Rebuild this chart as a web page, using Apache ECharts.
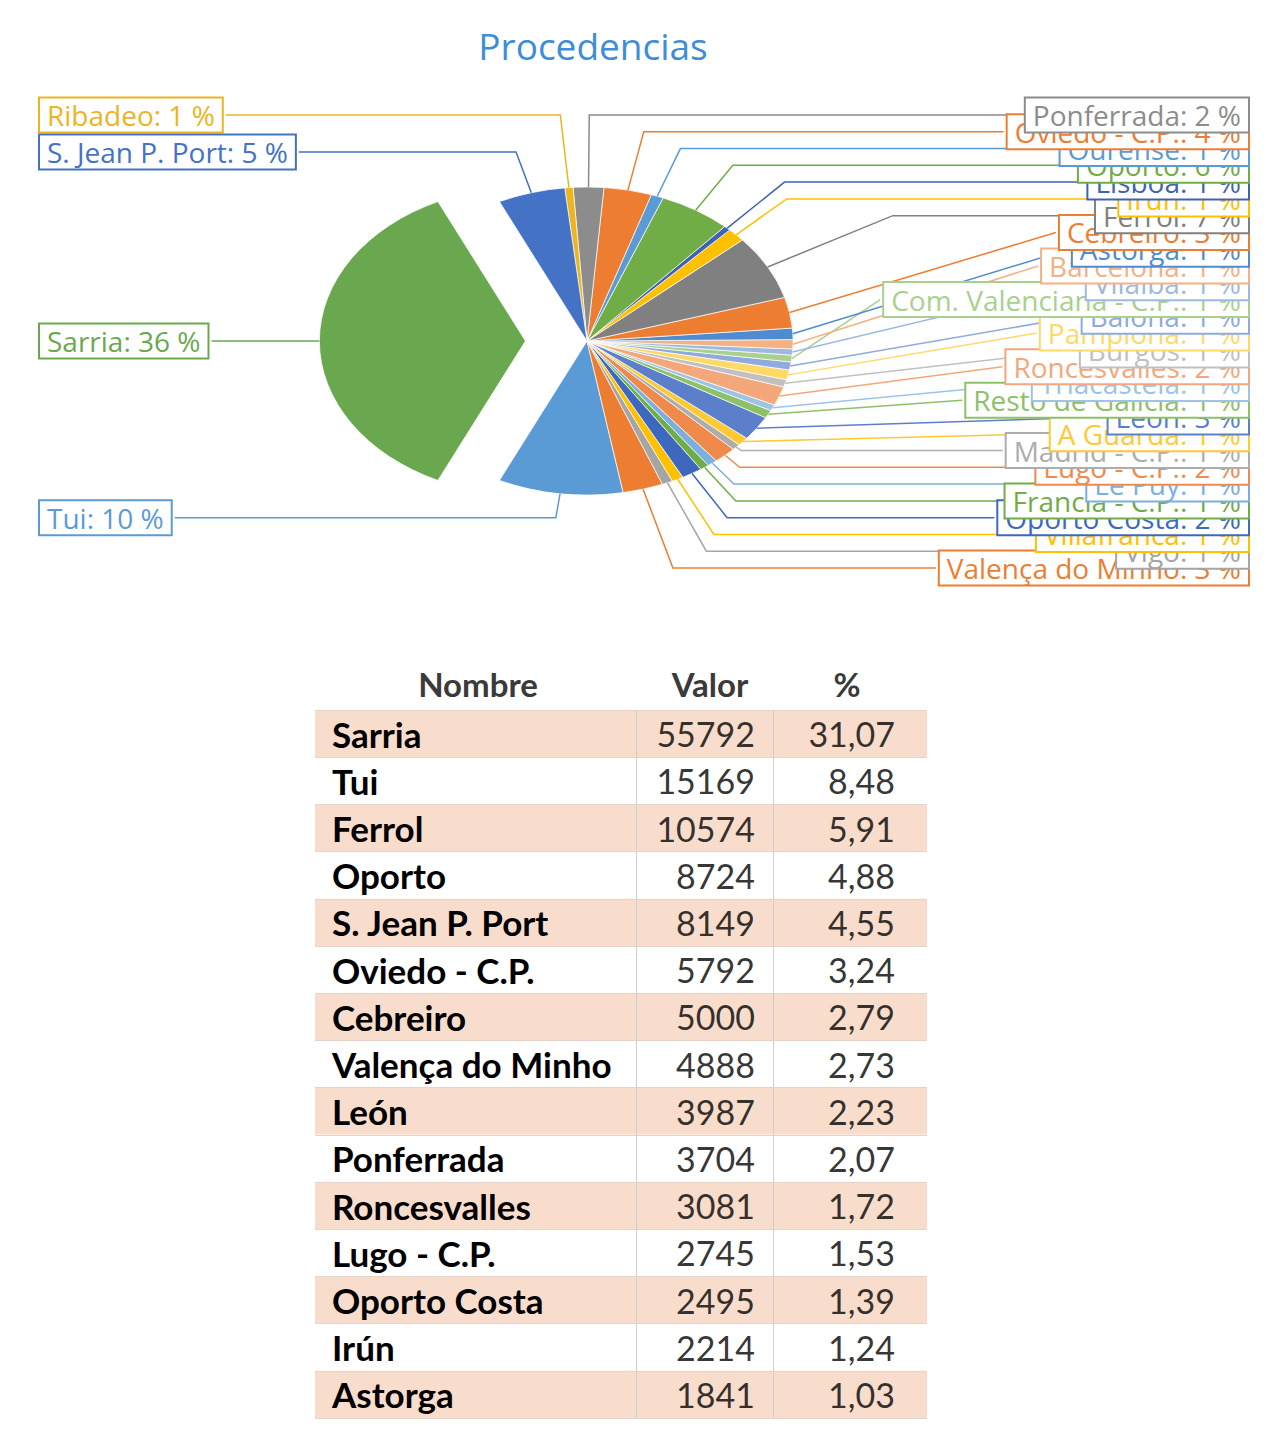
<!DOCTYPE html>
<html>
<head>
<meta charset="utf-8">
<script src="https://cdn.jsdelivr.net/npm/echarts@6/dist/echarts.min.js"></script>
<style>
html,body{margin:0;padding:0;background:#fff;}
#page{position:relative;width:1280px;height:1449px;overflow:hidden;}
#pie{position:absolute;left:0;top:0;width:1280px;height:600px;z-index:1;transform-origin:587px 341px;transform:scaleX(1.338);}
#main{position:absolute;left:0;top:0;width:1280px;height:1449px;z-index:2;}
</style>
</head>
<body>
<div id="page"><div id="pie"></div><div id="main"></div></div>
<script>
// ---------------- Pie data (clockwise, starting with Sarria) ----------------
const pieNames = ['Sarria','S. Jean P. Port','Ribadeo','Ponferrada','Oviedo - C.P.','Ourense','Oporto','Lisboa','Irún','Ferrol','Cebreiro','Astorga','Barcelona','Vilalba','Com. Valenciana - C.P.','Baiona','Pamplona','Burgos','Roncesvalles','Triacastela','Resto de Galicia','León','A Guarda','Madrid - C.P.','Lugo - C.P.','Le Puy','Francia - C.P.','Oporto Costa','Villafranca','Vigo','Valença do Minho','Tui'];
const pieValues = [55792, 8149, 1000, 3704, 5792, 1500, 8724, 800, 2214, 10574, 5000, 1841, 1500, 1000, 1100, 1300, 1600, 1200, 3081, 1000, 1300, 3987, 1400, 1000, 2745, 1200, 1100, 2495, 1400, 1300, 4888, 15169];
const pieColors = ['#6AA84F','#4472C4','#EBB522','#8C8C8C','#ED7D31','#5B9BD5','#70AD47','#3F63B0','#FFC000','#808080','#ED7D31','#4E8BD0','#F4B183','#9DB9E0','#A9D18E','#8FAADC','#FFD966','#C0C0C0','#F4A77A','#9DC3E6','#8CC168','#5B7FCB','#FFC933','#ADADAD','#F08A4B','#7CAFDD','#70AD47','#3D68BE','#FFC000','#A5A5A5','#ED7D31','#5B9BD5'];
const explodedName = 'Sarria';

// ---------------- Table data ----------------
const tableNames = ['Sarria','Tui','Ferrol','Oporto','S. Jean P. Port','Oviedo - C.P.','Cebreiro','Valença do Minho','León','Ponferrada','Roncesvalles','Lugo - C.P.','Oporto Costa','Irún','Astorga'];
const tableValues = [55792,15169,10574,8724,8149,5792,5000,4888,3987,3704,3081,2745,2495,2214,1841];
const tablePct = [31.07,8.48,5.91,4.88,4.55,3.24,2.79,2.73,2.23,2.07,1.72,1.53,1.39,1.24,1.03];
const tableHeader = ['Nombre','Valor','%'];

// ---------------- Layout constants ----------------
const CX = 587, CY = 341, R = 154, SX = 1.338, EXPLODE = 46;
const LEFT_EDGE = 40, RIGHT_EDGE = 1248;
const RIGHT_TOP = 115, RIGHT_BOTTOM = 568;
const LEFT_TOP = 115, LEFT_STEP = 37, LOWER_OFFSET = 24;

// draw order reversed (counter-clockwise) so that earlier labels end up on top
const drawNames = pieNames.slice().reverse();
const drawValues = pieValues.slice().reverse();
const drawColors = pieColors.slice().reverse();
const total = pieValues.reduce((a, b) => a + b, 0);
const startAngle = 180 + 180 * pieValues[0] / total;

let cum = 0;
const geo = drawValues.map((v, i) => {
  const mid = startAngle + (cum + v / 2) / total * 360;
  cum += v;
  const rad = mid * Math.PI / 180;
  const off = drawNames[i] === explodedName ? EXPLODE : 0;
  return { rad, ex: CX + (R + off) * Math.cos(rad) * SX, ey: CY - (R + off) * Math.sin(rad) };
});
const rightIdx = geo.map((g, i) => i).filter(i => Math.cos(geo[i].rad) > 0).sort((a, b) => geo[a].ey - geo[b].ey);
rightIdx.forEach((i, k) => { geo[i].side = 'right'; geo[i].ly = RIGHT_TOP + k * (RIGHT_BOTTOM - RIGHT_TOP) / (rightIdx.length - 1); });
const leftIdx = geo.map((g, i) => i).filter(i => Math.cos(geo[i].rad) <= 0);
const upperLeft = leftIdx.filter(i => Math.sin(geo[i].rad) > 0.5).sort((a, b) => geo[a].ey - geo[b].ey);
upperLeft.forEach((i, k) => { geo[i].side = 'left'; geo[i].ly = LEFT_TOP + k * LEFT_STEP; });
leftIdx.forEach(i => {
  if (geo[i].side) return;
  geo[i].side = 'left';
  const s = Math.sin(geo[i].rad);
  geo[i].ly = s < -0.5 ? geo[i].ey + LOWER_OFFSET : geo[i].ey;
});

function labelLayout(params) {
  const g = geo[params.dataIndex];
  const w = params.labelRect.width;
  let x, align, endX;
  if (g.side === 'right') { x = RIGHT_EDGE; align = 'right'; endX = RIGHT_EDGE - w; }
  else { x = LEFT_EDGE; align = 'left'; endX = LEFT_EDGE + w; }
  const dirx = Math.cos(g.rad) * SX, diry = -Math.sin(g.rad);
  const t = Math.abs(diry) > 1e-6 ? (g.ly - g.ey) / diry : -1;
  let pts;
  if (t > 0) {
    let bx = g.ex + t * dirx;
    bx = g.side === 'right' ? Math.min(bx, endX) : Math.max(bx, endX);
    pts = [[g.ex, g.ey], [bx, g.ly], [endX, g.ly]];
  } else {
    pts = [[g.ex, g.ey], [g.ex, g.ey], [endX, g.ly]];
  }
  return { x, y: g.ly, align, verticalAlign: 'middle', labelLinePoints: pts };
}

// ---------------- Pie (stretched horizontally like the original) ----------------
const pieChart = echarts.init(document.getElementById('pie'), null, { renderer: 'svg' });
pieChart.setOption({
  animation: false,
  series: [{
    type: 'pie',
    center: [CX, CY],
    radius: R,
    startAngle: startAngle,
    clockwise: false,
    selectedMode: 'single',
    selectedOffset: EXPLODE,
    label: { show: false },
    labelLine: { show: false },
    emphasis: { disabled: true },
    itemStyle: { borderColor: '#ffffff', borderWidth: 0.6 },
    data: drawNames.map((n, i) => ({
      name: n, value: drawValues[i], selected: n === explodedName,
      itemStyle: { color: drawColors[i] }
    }))
  }]
});

// ---------------- Labels, title and table ----------------
const chart = echarts.init(document.getElementById('main'), null, { renderer: 'svg' });
const FONT = 'Lato';
const rowColorA = '#F9DDCC';
chart.setOption({
  animation: false,
  backgroundColor: 'transparent',
  title: {
    text: 'Procedencias',
    left: 588, top: 22, textAlign: 'center',
    textStyle: { fontFamily: 'Open Sans', fontSize: 37, fontWeight: 'normal', color: '#3E8DD8' }
  },
  grid: { left: 315, top: 710, width: 612, height: 708 },
  xAxis: { type: 'value', min: 0, max: 612, show: false },
  yAxis: {
    type: 'category', inverse: true, data: tableNames,
    axisLine: { show: false }, axisTick: { show: false },
    axisLabel: { inside: true, margin: 17, fontFamily: FONT, fontWeight: 'bold', fontSize: 35, color: '#000' },
    splitArea: { show: true, areaStyle: { color: [rowColorA, '#FFFFFF'] } },
    splitLine: { show: true, lineStyle: { color: '#E9D3C7', width: 1 } }
  },
  graphic: tableHeader.map((h, i) => ({
    type: 'text', x: [478, 710, 847][i], y: 684,
    style: { text: h, font: 'bold 33px ' + FONT, fill: '#3A3A3A', align: 'center', verticalAlign: 'middle' }
  })),
  series: [
    {
      type: 'pie',
      center: [CX, CY], radius: R,
      startAngle: startAngle, clockwise: false,
      silent: true, avoidLabelOverlap: false,
      emphasis: { disabled: true },
      itemStyle: { color: 'rgba(0,0,0,0)' },
      label: {
        show: true, position: 'outside',
        formatter: p => p.name + ': ' + Math.round(p.value / total * 100) + ' %',
        fontFamily: 'Open Sans', fontSize: 28, lineHeight: 31,
        backgroundColor: '#ffffff', borderWidth: 2, padding: [1, 7]
      },
      labelLine: { show: true, length: 10, length2: 10, lineStyle: { width: 1.5 } },
      labelLayout: labelLayout,
      data: drawNames.map((n, i) => ({
        name: n, value: drawValues[i],
        label: { color: drawColors[i], borderColor: drawColors[i] },
        labelLine: { lineStyle: { color: drawColors[i] } }
      }))
    },
    {
      type: 'scatter', symbolSize: 0, silent: true,
      data: tableValues.map((v, i) => [440, i]),
      label: { show: true, position: 'left', distance: 0, fontFamily: FONT, fontSize: 34, color: '#000',
        formatter: p => String(tableValues[p.dataIndex]) },
      markLine: {
        silent: true, symbol: 'none', label: { show: false },
        lineStyle: { color: '#CFCFCF', type: 'solid', width: 1 },
        data: [{ xAxis: 321 }, { xAxis: 458 }]
      }
    },
    {
      type: 'scatter', symbolSize: 0, silent: true,
      data: tablePct.map((v, i) => [580, i]),
      label: { show: true, position: 'left', distance: 0, fontFamily: FONT, fontSize: 34, color: '#000',
        formatter: p => tablePct[p.dataIndex].toFixed(2).replace('.', ',') }
    }
  ]
});
</script>
</body>
</html>
